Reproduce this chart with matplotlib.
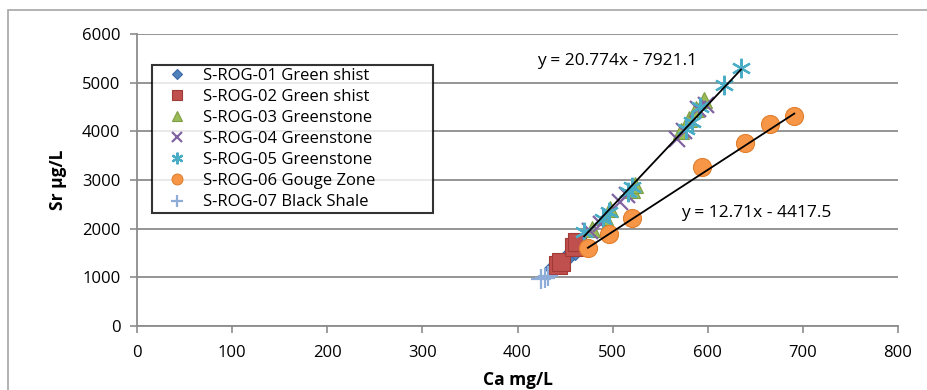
import matplotlib
matplotlib.use("Agg")
import matplotlib.pyplot as plt
from matplotlib.patches import Rectangle
import numpy as np

plt.rcParams['font.family'] = ['Open Sans', 'DejaVu Sans']

# Sample series: Ca (mg/L) vs Sr (µg/L)
series_names = [
    "S-ROG-01 Green shist",
    "S-ROG-02 Green shist",
    "S-ROG-03 Greenstone",
    "S-ROG-04 Greenstone",
    "S-ROG-05 Greenstone",
    "S-ROG-06 Gouge Zone",
    "S-ROG-07 Black Shale",
]

ca_01 = [437, 445, 452, 460]
sr_01 = [1190, 1300, 1420, 1550]

ca_02 = [443, 446, 459, 463]
sr_02 = [1250, 1320, 1620, 1720]

ca_03 = [478, 492, 497, 520, 523, 572, 580, 588, 596]
sr_03 = [2000, 2250, 2400, 2800, 2900, 4000, 4250, 4450, 4650]

ca_04 = [476, 488, 508, 515, 568, 575, 590, 598]
sr_04 = [1950, 2100, 2550, 2700, 3850, 4000, 4450, 4550]

ca_05 = [470, 490, 496, 516, 520, 577, 583, 592, 617, 635]
sr_05 = [1930, 2200, 2350, 2750, 2850, 4050, 4200, 4500, 4950, 5300]

ca_06 = [474, 496, 520, 594, 639, 665, 691]
sr_06 = [1600, 1900, 2220, 3260, 3760, 4150, 4320]

ca_07 = [425, 429, 432]
sr_07 = [960, 990, 1030]

# Linear trendlines (slope, intercept) for Greenstone S-ROG-05 and Gouge Zone
trend_05 = (20.774, -7921.1)
trend_06 = (12.71, -4417.5)

x_ticks = [0, 100, 200, 300, 400, 500, 600, 700, 800]
y_ticks = [0, 1000, 2000, 3000, 4000, 5000, 6000]

colors = ["#4F81BD", "#C0504D", "#9BBB59", "#8064A2", "#4BACC6", "#F79646", "#8EACD8"]
edges = ["#3A6AA5", "#A03A37", "#7E9E43", "#8064A2", "#4BACC6", "#E07F2E", "#8EACD8"]
markers = ["D", "s", "^", "x", (6, 2, 0), "o", "+"]
sizes = [9, 13, 11, 12, 14, 13, 15]

fig = plt.figure(figsize=(9.28, 3.90), dpi=100)
fig.patches.append(Rectangle((8 / 928, -0.1), 1.2, 1 - 10 / 390 + 0.1,
                             transform=fig.transFigure, fill=False,
                             edgecolor="#A6A6A6", linewidth=1.2))

ax = fig.add_axes([137 / 928, 1 - 326 / 390, (898 - 137) / 928, (326 - 34) / 390])

data = [(ca_01, sr_01), (ca_02, sr_02), (ca_03, sr_03), (ca_04, sr_04),
        (ca_05, sr_05), (ca_06, sr_06), (ca_07, sr_07)]

handles = []
for (xs, ys), name, c, ec, m, s in zip(data, series_names, colors, edges, markers, sizes):
    if m in ("x", "+"):
        h, = ax.plot(xs, ys, linestyle="none", marker=m, markersize=s,
                     markeredgecolor=c, markeredgewidth=1.6, label=name, zorder=3)
    elif isinstance(m, tuple):
        h, = ax.plot(xs, ys, linestyle="none", marker=m, markersize=s,
                     markeredgecolor=c, markerfacecolor=c, markeredgewidth=1.6,
                     label=name, zorder=3)
    else:
        h, = ax.plot(xs, ys, linestyle="none", marker=m, markersize=s,
                     markerfacecolor=c, markeredgecolor=ec, markeredgewidth=0.8,
                     label=name, zorder=3)
    handles.append(h)

# Trendlines over each series' range
for (xs, _), (a, b) in ((data[4], trend_05), (data[5], trend_06)):
    xr = np.array([min(xs), max(xs)])
    ax.plot(xr, a * xr + b, color="black", linewidth=1.3, zorder=4)

ax.text(505, 5450, "y = 20.774x - 7921.1", fontsize=12.5, ha="center", va="center")
ax.text(651, 2322, "y = 12.71x - 4417.5", fontsize=12.5, ha="center", va="center")

ax.set_xlim(0, 800)
ax.set_ylim(0, 6000)
ax.set_xticks(x_ticks)
ax.set_yticks(y_ticks)
ax.set_xticklabels([str(v) for v in x_ticks], fontsize=12)
ax.set_yticklabels([str(v) for v in y_ticks], fontsize=12)
ax.yaxis.grid(True, color="#8C8C8C", linewidth=1.3)
ax.set_axisbelow(True)
for side in ("top", "right"):
    ax.spines[side].set_visible(False)
for side in ("left", "bottom"):
    ax.spines[side].set_color("#8C8C8C")
    ax.spines[side].set_linewidth(1.3)
ax.tick_params(axis="both", direction="out", length=5, width=1.2, color="#8C8C8C")
ax.tick_params(axis="x", pad=9)
ax.tick_params(axis="y", pad=7)

ax.set_xlabel("Ca mg/L", fontsize=12.5, fontweight="bold", labelpad=7)
ax.set_ylabel("Sr µg/L", fontsize=12.5, fontweight="bold", labelpad=11)

x0 = (152 - 137) / 761
y_top = (326 - 65) / 292
w = (433 - 152) / 761
h = (213 - 65) / 292
leg = ax.legend(handles=handles, loc="upper left", mode="expand",
                bbox_to_anchor=(x0, y_top - h, w, h),
                fontsize=12, frameon=True, fancybox=False, markerscale=0.6,
                borderpad=0.15, labelspacing=0.31, handletextpad=0.15,
                handlelength=2.75, borderaxespad=0)
leg.get_frame().set_edgecolor("black")
leg.get_frame().set_linewidth(1.5)

fig.savefig("out.png", dpi=100)
